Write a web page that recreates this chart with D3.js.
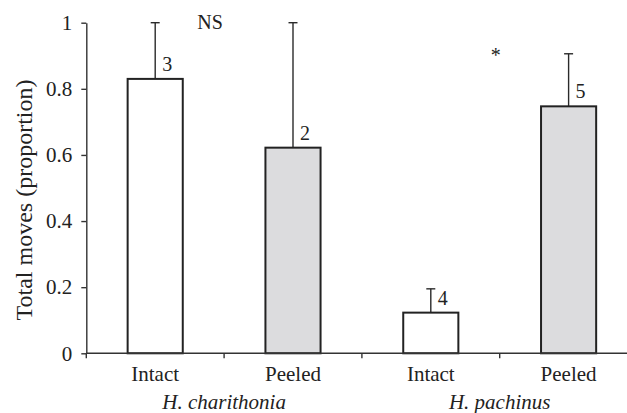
<!DOCTYPE html>
<html>
<head>
<meta charset="utf-8">
<script src="https://cdn.jsdelivr.net/npm/d3@7"></script>
<style>
  html, body { margin: 0; padding: 0; background: #fff; }
  svg { display: block; }
  svg text { fill: #222; }
</style>
</head>
<body>
<svg id="chart" width="627" height="413"></svg>
<script>
// ---- data ----
const categories = ["Intact", "Peeled", "Intact", "Peeled"];
const categoryIds = ["hc-intact", "hc-peeled", "hp-intact", "hp-peeled"];
const treatments = ["intact", "peeled", "intact", "peeled"];
const means = [0.83, 0.622, 0.123, 0.747];
const errorTops = [1.0, 1.0, 0.195, 0.906];
const sampleSizes = ["3", "2", "4", "5"];
const species = ["H. charithonia", "H. pachinus"];
const significance = ["NS", "*"];
const yTicks = [0, 0.2, 0.4, 0.6, 0.8, 1];
const yTickLabels = ["0", "0.2", "0.4", "0.6", "0.8", "1"];
const yTitle = "Total moves (proportion)";

(function () {
const svg = d3.select("#chart");
const mLeft = 86.3, mRight = 637.5, mTop = 22.7, mBottom = 353.3;
const FONT = "Liberation Serif";

const x = d3.scaleBand().domain(categoryIds).range([mLeft, mRight])
  .paddingInner(0.6).paddingOuter(0.3);
const y = d3.scaleLinear().domain([0, 1]).range([mBottom, mTop]);
const fill = d3.scaleOrdinal().domain(["intact", "peeled"]).range(["#ffffff", "#dcdcde"]);

const data = categoryIds.map((id, i) => ({
  id, label: categories[i], t: treatments[i], m: means[i], e: errorTops[i], n: sampleSizes[i]
}));

// error bars (upper only)
const cap = 4.5;
const eb = svg.append("g").attr("stroke", "#2a2a2a").attr("stroke-width", 1.4);
data.forEach(d => {
  const cx = x(d.id) + x.bandwidth() / 2;
  eb.append("line").attr("x1", cx).attr("x2", cx).attr("y1", y(d.m)).attr("y2", y(d.e));
  eb.append("line").attr("x1", cx - cap).attr("x2", cx + cap).attr("y1", y(d.e)).attr("y2", y(d.e));
});

// bars
svg.append("g").selectAll("rect").data(data).join("rect")
  .attr("x", d => x(d.id))
  .attr("y", d => y(d.m))
  .attr("width", x.bandwidth())
  .attr("height", d => y(0) - y(d.m))
  .attr("fill", d => fill(d.t))
  .attr("stroke", "#222")
  .attr("stroke-width", 2);

// sample size labels
svg.append("g").selectAll("text").data(data).join("text")
  .attr("x", d => x(d.id) + x.bandwidth() / 2 + 7)
  .attr("y", d => y(d.m) - 8)
  .attr("font-family", FONT)
  .attr("font-size", 20)
  .text(d => d.n);

// y axis
const yAxis = d3.axisLeft(y).tickValues(yTicks)
  .tickFormat((d, i) => yTickLabels[i]).tickSize(5).tickSizeOuter(0).tickPadding(9);
const gy = svg.append("g").attr("transform", `translate(${mLeft},0)`).call(yAxis)
  .attr("font-family", FONT).attr("font-size", 21);
gy.select(".domain").attr("stroke", "#333").attr("stroke-width", 1.4);
gy.selectAll(".tick line").attr("stroke", "#333").attr("stroke-width", 1.4);
gy.selectAll(".tick text").attr("fill", "#222");

// x axis line with boundary ticks
const boundaries = [mLeft].concat(categoryIds.map(id => x(id) + x.bandwidth() + x.step() * x.paddingInner() / 2));
const gx = svg.append("g").attr("stroke", "#333").attr("stroke-width", 1.4);
gx.append("line").attr("x1", mLeft).attr("x2", mRight).attr("y1", y(0)).attr("y2", y(0));
boundaries.forEach(b => {
  gx.append("line").attr("x1", b).attr("x2", b).attr("y1", y(0)).attr("y2", y(0) + 5);
});

// category labels
svg.append("g").selectAll("text").data(data).join("text")
  .attr("x", d => x(d.id) + x.bandwidth() / 2)
  .attr("y", 381)
  .attr("text-anchor", "middle")
  .attr("font-family", FONT)
  .attr("font-size", 21)
  .text(d => d.label);

// species labels
species.forEach((s, i) => {
  const cx = (x(categoryIds[2 * i]) + x(categoryIds[2 * i + 1]) + x.bandwidth()) / 2;
  svg.append("text").attr("x", cx).attr("y", 409)
    .attr("text-anchor", "middle").attr("font-size", 21).attr("font-style", "italic")
    .attr("font-family", FONT)
    .text(s);
});

// significance labels
const sigX = [-14, -4];
const sigY = [0.98, 0.88];
significance.forEach((s, i) => {
  const cx = (x(categoryIds[2 * i]) + x(categoryIds[2 * i + 1]) + x.bandwidth()) / 2;
  svg.append("text").attr("x", cx + sigX[i]).attr("y", y(sigY[i]))
    .attr("text-anchor", "middle").attr("font-size", 20).attr("font-family", FONT).text(s);
});

// y title
svg.append("text")
  .attr("transform", `translate(32,200) rotate(-90)`)
  .attr("text-anchor", "middle")
  .attr("font-family", FONT)
  .attr("font-size", 24)
  .text(yTitle);
})();
</script>
</body>
</html>
